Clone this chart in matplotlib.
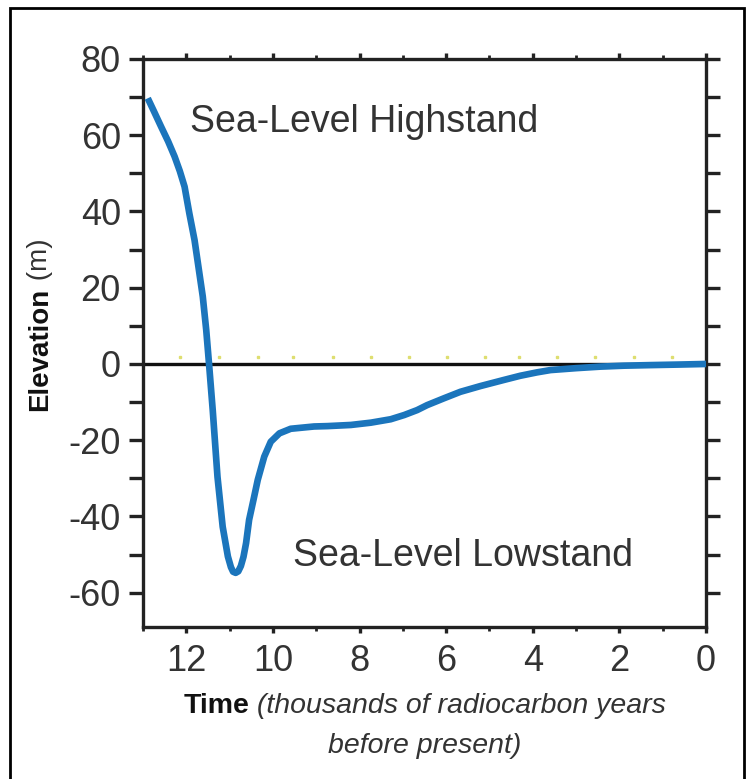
import matplotlib
matplotlib.use("Agg")
import matplotlib.pyplot as plt
from matplotlib import font_manager
from matplotlib.patches import Rectangle
from matplotlib.ticker import MultipleLocator

# ---- data ----
time_kyr = [12.89, 12.74, 12.58, 12.42, 12.27, 12.15, 12.04, 11.93, 11.81, 11.72,
            11.62, 11.54, 11.47, 11.39, 11.28, 11.16, 11.04, 10.97, 10.92, 10.86,
            10.80, 10.74, 10.68, 10.62, 10.55, 10.45, 10.35, 10.20, 10.05, 9.85,
            9.59, 9.05, 8.74, 8.2, 7.74, 7.28, 6.97, 6.67, 6.44, 6.05,
            5.67, 5.21, 4.67, 4.29, 3.9, 3.59, 3.0, 2.44, 1.9, 1.29,
            0.6, 0.0]
elevation_m = [69.7, 66.1, 62.2, 58.4, 54.4, 50.6, 46.5, 39.5, 32.5, 25.5,
               17.7, 8.9, -0.7, -12.1, -29.6, -42.7, -50.5, -53.3, -54.5, -54.8,
               -54.4, -53.0, -50.6, -47.0, -40.9, -35.7, -30.4, -24.3, -20.4, -18.2,
               -17.0, -16.4, -16.3, -16.0, -15.4, -14.5, -13.4, -12.1, -10.8, -9.0,
               -7.3, -5.8, -4.2, -3.1, -2.2, -1.6, -1.1, -0.7, -0.45, -0.3,
               -0.15, 0.0]
dot_x = [12.14, 11.24, 10.35, 9.54, 8.62, 7.74, 6.86, 5.98, 5.1, 4.31, 3.43, 2.56, 1.66, 0.78]
x_ticks = [12, 10, 8, 6, 4, 2, 0]
y_ticks = [80, 60, 40, 20, 0, -20, -40, -60]
label_high = "Sea-Level Highstand"
label_low = "Sea-Level Lowstand"

available = {f.name for f in font_manager.fontManager.ttflist}
base = "Liberation Sans" if "Liberation Sans" in available else "DejaVu Sans"

plt.rcParams['font.family'] = [base, 'DejaVu Sans']
txt_col = "#333333"

fig = plt.figure(figsize=(7.51, 7.79), dpi=100)
W, H = 751, 779
# outer frame
fig.patches.append(Rectangle((10 / W, -0.01), (744 - 10) / W, 1 - 8 / H + 0.01,
                             transform=fig.transFigure, fill=False,
                             edgecolor="black", linewidth=2.0))

ax = fig.add_axes([143 / W, 1 - 627 / H, (706 - 143) / W, (627 - 59) / H])
ax.set_xlim(13, 0)
ax.set_ylim(-69, 80)

ax.axhline(0, color="#111111", linewidth=2.4, zorder=2)
ax.plot(dot_x, [1.7] * len(dot_x), linestyle="none", marker="s", markersize=1.6,
        color="#dede70", zorder=1)
ax.plot(time_kyr, elevation_m, color="#1b75bc", linewidth=4.8,
        solid_capstyle="butt", solid_joinstyle="round", zorder=3)

for s in ax.spines.values():
    s.set_linewidth(2.4)
    s.set_color("#222222")

ax.xaxis.set_minor_locator(MultipleLocator(1))
ax.yaxis.set_minor_locator(MultipleLocator(10))
ax.set_xticks(x_ticks)
ax.set_yticks(y_ticks)
ax.set_xticklabels([str(v) for v in x_ticks])
ax.set_yticklabels([str(v) for v in y_ticks])

ax.tick_params(axis="y", which="both", direction="out", left=True, right=True,
               length=10, width=2.4, color="#222222", labelsize=26,
               labelcolor=txt_col, pad=6)
ax.tick_params(axis="x", which="major", direction="out", top=True, bottom=True,
               length=4, width=2.4, color="#222222", labelsize=26,
               labelcolor=txt_col, pad=8)
ax.tick_params(axis="x", which="minor", direction="out", top=True, bottom=True,
               length=3, width=2.0, color="#222222")

ax.text(11.92, 63.5, label_high, fontsize=27, color=txt_col, ha="left",
        va="center")
ax.text(9.54, -50.5, label_low, fontsize=27, color=txt_col, ha="left",
        va="center")

# x label: bold "Time" + italic part, two lines, centred under the axes
cx = (143 + 706) / 2 / W
t1 = fig.text(0, 1 - 706 / H, "Time", fontsize=20.5, fontweight="bold",
              color="#111111", va="center", ha="left")
t2 = fig.text(0, 1 - 706 / H, " (thousands of radiocarbon years", fontsize=20.5,
              fontstyle="italic", color=txt_col, va="center", ha="left")
t3 = fig.text(cx, 1 - 746 / H, "before present)", fontsize=20.5,
              fontstyle="italic", color=txt_col, va="center", ha="center")

# y label: bold "Elevation" + normal " (m)"
e1 = fig.text(40 / W, 0, "Elevation", fontsize=20, fontweight="bold",
              color="#111111", rotation=90, va="center", ha="center")
e2 = fig.text(40 / W, 0, " (m)", fontsize=20, color=txt_col, rotation=90,
              va="center", ha="center")

fig.canvas.draw()
r = fig.canvas.get_renderer()
w1 = t1.get_window_extent(r).width
w2 = t2.get_window_extent(r).width
start = cx * W - (w1 + w2) / 2
t1.set_x(start / W)
t2.set_x((start + w1) / W)

h1 = e1.get_window_extent(r).height
h2 = e2.get_window_extent(r).height
ycen = 1 - 325 / H
ystart = ycen * H - (h1 + h2) / 2
e1.set_y((ystart + h1 / 2) / H)
e2.set_y((ystart + h1 + h2 / 2) / H)

fig.savefig("out.png", dpi=100)
